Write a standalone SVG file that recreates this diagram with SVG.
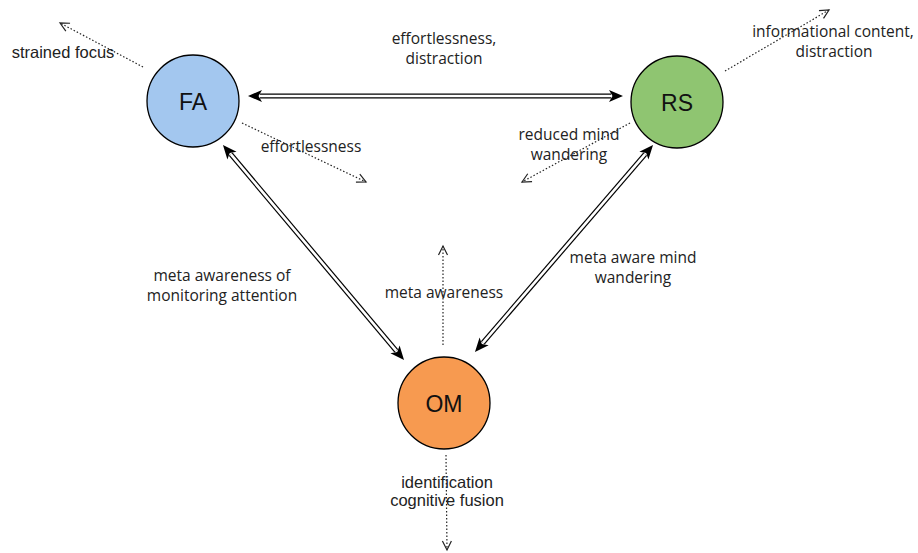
<svg xmlns="http://www.w3.org/2000/svg" width="918" height="553" viewBox="0 0 918 553">
<defs>
<style>
.node{stroke:#000;stroke-width:1.3}
.nl{font-family:"Liberation Sans",Arial,sans-serif;font-size:23px;fill:#111;text-anchor:middle;dominant-baseline:central}
.lb{font-family:"Open Sans","Noto Sans",sans-serif;font-size:15.5px;fill:#222;text-anchor:middle}
.la{font-family:"Liberation Sans",Arial,sans-serif;font-size:16.5px;fill:#222;text-anchor:middle}
.outer{stroke:#000;stroke-width:5;fill:none}
.inner{stroke:#fff;stroke-width:2.6;fill:none}
.heads{stroke:none;fill:none;marker-start:url(#blk);marker-end:url(#blk)}
.dot{stroke:#222;stroke-width:1.2;stroke-dasharray:1.5 2;fill:none;marker-end:url(#open)}
</style>
<marker id="blk" markerUnits="userSpaceOnUse" markerWidth="30" markerHeight="30" viewBox="-15 -15 30 30" refX="0" refY="0" orient="auto-start-reverse" overflow="visible">
<path d="M-2,-6 L12,0 L-2,6 L1.5,0 Z" fill="#000"/>
</marker>
<marker id="open" markerUnits="userSpaceOnUse" markerWidth="30" markerHeight="30" viewBox="-15 -15 30 30" refX="0" refY="0" orient="auto" overflow="visible">
<path d="M-9,-4.5 L0,0 L-9,4.5" fill="none" stroke="#222" stroke-width="1.2"/>
</marker>
</defs>
<rect width="918" height="553" fill="#fff"/>
<g id="connectors">
<path class="outer" d="M260,96 L611,96"/>
<path class="inner" d="M260,96 L611,96"/>
<path class="heads" d="M260,96 L611,96"/>
<path class="outer" d="M230.7,154.2 L396.3,350.8"/>
<path class="inner" d="M230.7,154.2 L396.3,350.8"/>
<path class="heads" d="M230.7,154.2 L396.3,350.8"/>
<path class="outer" d="M645.2,154.1 L482.8,342.9"/>
<path class="inner" d="M645.2,154.1 L482.8,342.9"/>
<path class="heads" d="M645.2,154.1 L482.8,342.9"/>
<path class="dot" d="M143,67 L60,23"/>
<path class="dot" d="M725,71 L829,10"/>
<path class="dot" d="M242,123 L366,182"/>
<path class="dot" d="M630,123 L522,182"/>
<path class="dot" d="M443,345 L443,246"/>
<path class="dot" d="M446,455 L447,550"/>
</g>
<g id="labels">
<text class="la" x="63" y="58">strained focus</text>
<text class="lb" x="444" y="44">effortlessness,</text>
<text class="lb" x="444" y="64">distraction</text>
<text class="lb" x="833" y="37">informational content,</text>
<text class="lb" x="834" y="57">distraction</text>
<text class="lb" x="311" y="152">effortlessness</text>
<text class="lb" x="569" y="140">reduced mind</text>
<text class="lb" x="569" y="160">wandering</text>
<text class="lb" x="222" y="281">meta awareness of</text>
<text class="lb" x="222" y="301">monitoring attention</text>
<text class="lb" x="633" y="263">meta aware mind</text>
<text class="lb" x="633" y="283">wandering</text>
<text class="lb" x="444" y="298">meta awareness</text>
<text class="la" x="447" y="488">identification</text>
<text class="la" x="447" y="506">cognitive fusion</text>
</g>
<g id="FA"><circle class="node" cx="193" cy="101" r="46" fill="#a3c7ef"/><text class="nl" x="193" y="102">FA</text></g>
<g id="RS"><circle class="node" cx="677" cy="102" r="46" fill="#8fc571"/><text class="nl" x="677" y="103">RS</text></g>
<g id="OM"><circle class="node" cx="444" cy="403" r="46" fill="#f79a50"/><text class="nl" x="444" y="404">OM</text></g>
</svg>
